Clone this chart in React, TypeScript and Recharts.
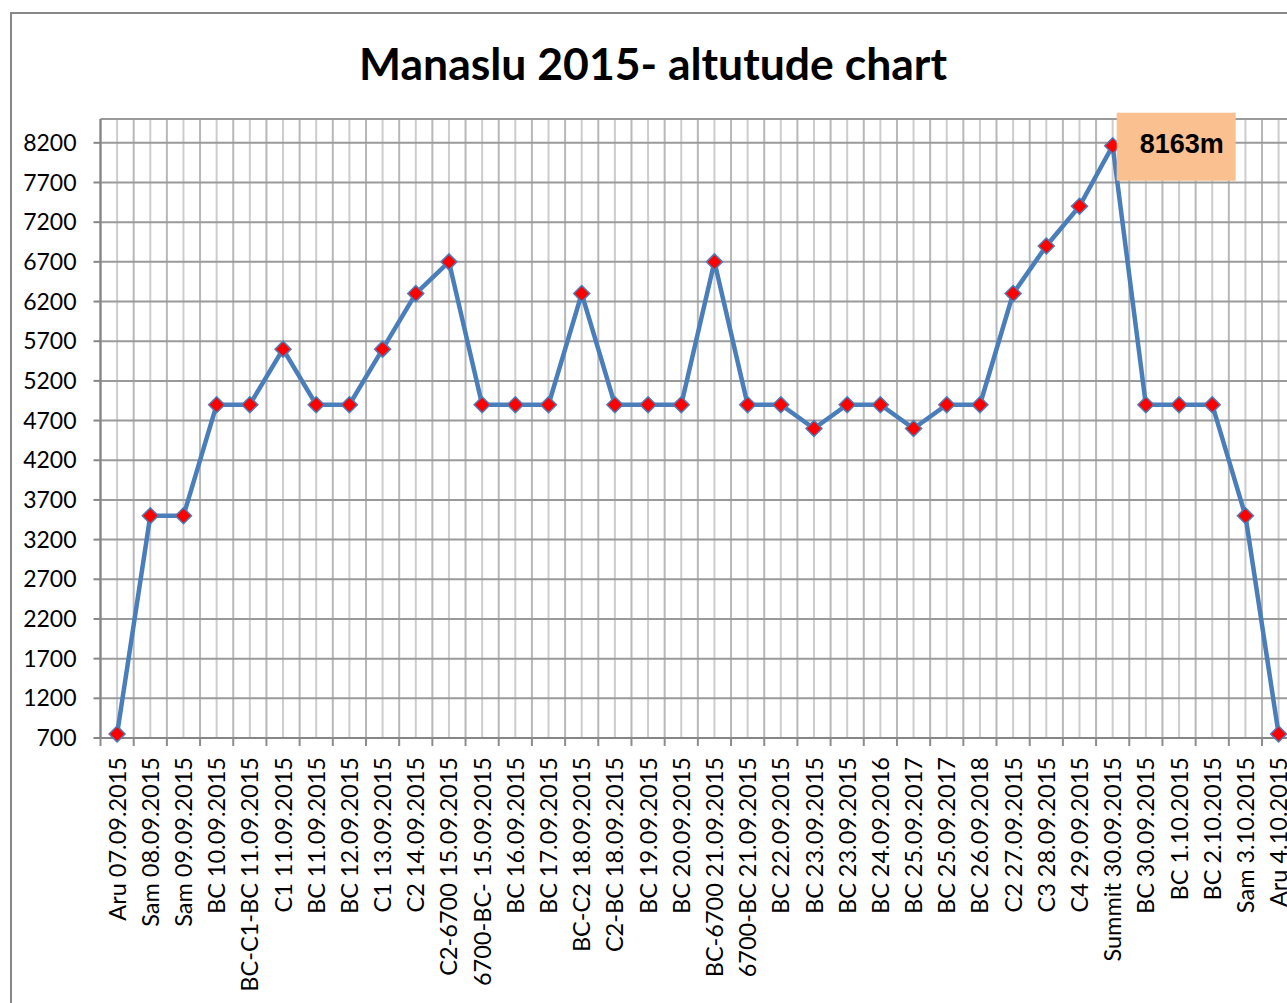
import { CartesianGrid, LabelList, Line, LineChart, XAxis, YAxis } from 'recharts';

const STOPS = [
  'Aru 07.09.2015', 'Sam 08.09.2015', 'Sam 09.09.2015', 'BC 10.09.2015', 'BC-C1-BC 11.09.2015',
  'C1 11.09.2015', 'BC 11.09.2015', 'BC 12.09.2015', 'C1 13.09.2015', 'C2 14.09.2015',
  'C2-6700 15.09.2015', '6700-BC- 15.09.2015', 'BC 16.09.2015', 'BC 17.09.2015', 'BC-C2 18.09.2015',
  'C2-BC 18.09.2015', 'BC 19.09.2015', 'BC 20.09.2015', 'BC-6700 21.09.2015', '6700-BC 21.09.2015',
  'BC 22.09.2015', 'BC 23.09.2015', 'BC 23.09.2015', 'BC 24.09.2016', 'BC 25.09.2017',
  'BC 25.09.2017', 'BC 26.09.2018', 'C2 27.09.2015', 'C3 28.09.2015', 'C4 29.09.2015',
  'Summit 30.09.2015', 'BC 30.09.2015', 'BC 1.10.2015', 'BC 2.10.2015', 'Sam 3.10.2015',
  'Aru 4.10.2015',
];

const ALTITUDE = [
  750, 3500, 3500, 4900, 4900, 5600, 4900, 4900, 5600, 6300,
  6700, 4900, 4900, 4900, 6300, 4900, 4900, 4900, 6700, 4900,
  4900, 4600, 4900, 4900, 4600, 4900, 4900, 6300, 6900, 7400,
  8163, 4900, 4900, 4900, 3500, 750,
];

const Y_TICKS = [700, 1200, 1700, 2200, 2700, 3200, 3700, 4200, 4700, 5200, 5700, 6200, 6700, 7200, 7700, 8200];
const PEAK_LABEL = '8163m';

const data = STOPS.map((stop, i) => ({ stop, alt: ALTITUDE[i] }));
const peak = Math.max(...ALTITUDE);

const FONT = 'Lato, "Open Sans", sans-serif';
const BAND = 1194.7 / STOPS.length;

function StopTick(props: any) {
  const { x, y, payload, index } = props;
  return (
    <g>
      <line x1={x + BAND / 2} x2={x + BAND / 2} y1={y} y2={y + 8} stroke="#8c8c8c" strokeWidth={2} />
      {index === 0 && <line x1={x - BAND / 2} x2={x - BAND / 2} y1={y} y2={y + 8} stroke="#8c8c8c" strokeWidth={2} />}
      <text
        transform={`translate(${x + 8.5}, ${y + 19}) rotate(-90)`}
        textAnchor="end"
        fontSize={23.5}
        fontFamily={FONT}
        fill="#000"
      >
        {payload.value}
      </text>
    </g>
  );
}

function Diamond(props: any) {
  const { cx, cy } = props;
  if (cx == null || cy == null) return null;
  const r = 8;
  return (
    <polygon
      points={`${cx},${cy - r} ${cx + r},${cy} ${cx},${cy + r} ${cx - r},${cy}`}
      fill="#ff0000"
      stroke="#4a7ebb"
      strokeWidth={1.5}
    />
  );
}

function PeakLabel(props: any) {
  const { x, y, value } = props;
  if (value !== peak) return null;
  return (
    <g>
      <rect x={x + 4} y={y - 33} width={119} height={68} fill="#fac090" />
      <text
        x={x + 69}
        y={y + 7}
        textAnchor="middle"
        fontSize={27}
        fontWeight="bold"
        fontFamily='"Liberation Sans", Arial, sans-serif'
        fill="#000"
      >
        {PEAK_LABEL}
      </text>
    </g>
  );
}

export default function App() {
  return (
    <div style={{ position: 'absolute', left: 0, top: 0, width: 1287, height: 1003, overflow: 'hidden', background: '#fff' }}>
      <div
        style={{
          position: 'absolute',
          left: 10,
          top: 12,
          width: 1400,
          height: 1100,
          border: '2px solid #878787',
        }}
      />
      <div
        style={{
          position: 'absolute',
          left: 0,
          top: 36,
          width: 1306,
          textAlign: 'center',
          fontFamily: FONT,
          fontWeight: 'bold',
          fontSize: 44.5,
          lineHeight: '54px',
        }}
      >
        Manaslu 2015- altutude chart
      </div>
      <div style={{ position: 'absolute', left: 0, top: 0 }}>
        <LineChart width={1300} height={1003} data={data} margin={{ top: 119, right: 4.8, left: 0, bottom: 0 }}>
          <CartesianGrid horizontal={false} stroke="#cdcdcd" strokeWidth={2} />
          <CartesianGrid
            horizontal={false}
            stroke="#b8b8b8"
            strokeWidth={2}
            verticalCoordinatesGenerator={({ offset }: any) =>
              STOPS.map((_, i) => offset.left + i * (offset.width / STOPS.length)).concat(offset.left + offset.width)
            }
          />
          <CartesianGrid vertical={false} stroke="#9a9a9a" strokeWidth={2} />
          <XAxis
            dataKey="stop"
            interval={0}
            padding={{ left: BAND / 2, right: BAND / 2 }}
            height={265}
            tickLine={false}
            tickSize={0}
            tickMargin={0}
            axisLine={{ stroke: '#868686', strokeWidth: 2 }}
            tick={<StopTick />}
          />
          <YAxis
            width={100.5}
            domain={[700, 8500]}
            ticks={Y_TICKS}
            interval={0}
            tickSize={7}
            tickMargin={17}
            tickLine={{ stroke: '#868686', strokeWidth: 2 }}
            axisLine={{ stroke: '#868686', strokeWidth: 2 }}
            tick={{ fill: '#000', fontSize: 23, fontFamily: FONT }}
          />
          <Line
            dataKey="alt"
            stroke="#4a7ebb"
            strokeWidth={4.5}
            dot={<Diamond />}
            activeDot={false}
            isAnimationActive={false}
          >
            <LabelList dataKey="alt" content={<PeakLabel />} />
          </Line>
        </LineChart>
      </div>
    </div>
  );
}
